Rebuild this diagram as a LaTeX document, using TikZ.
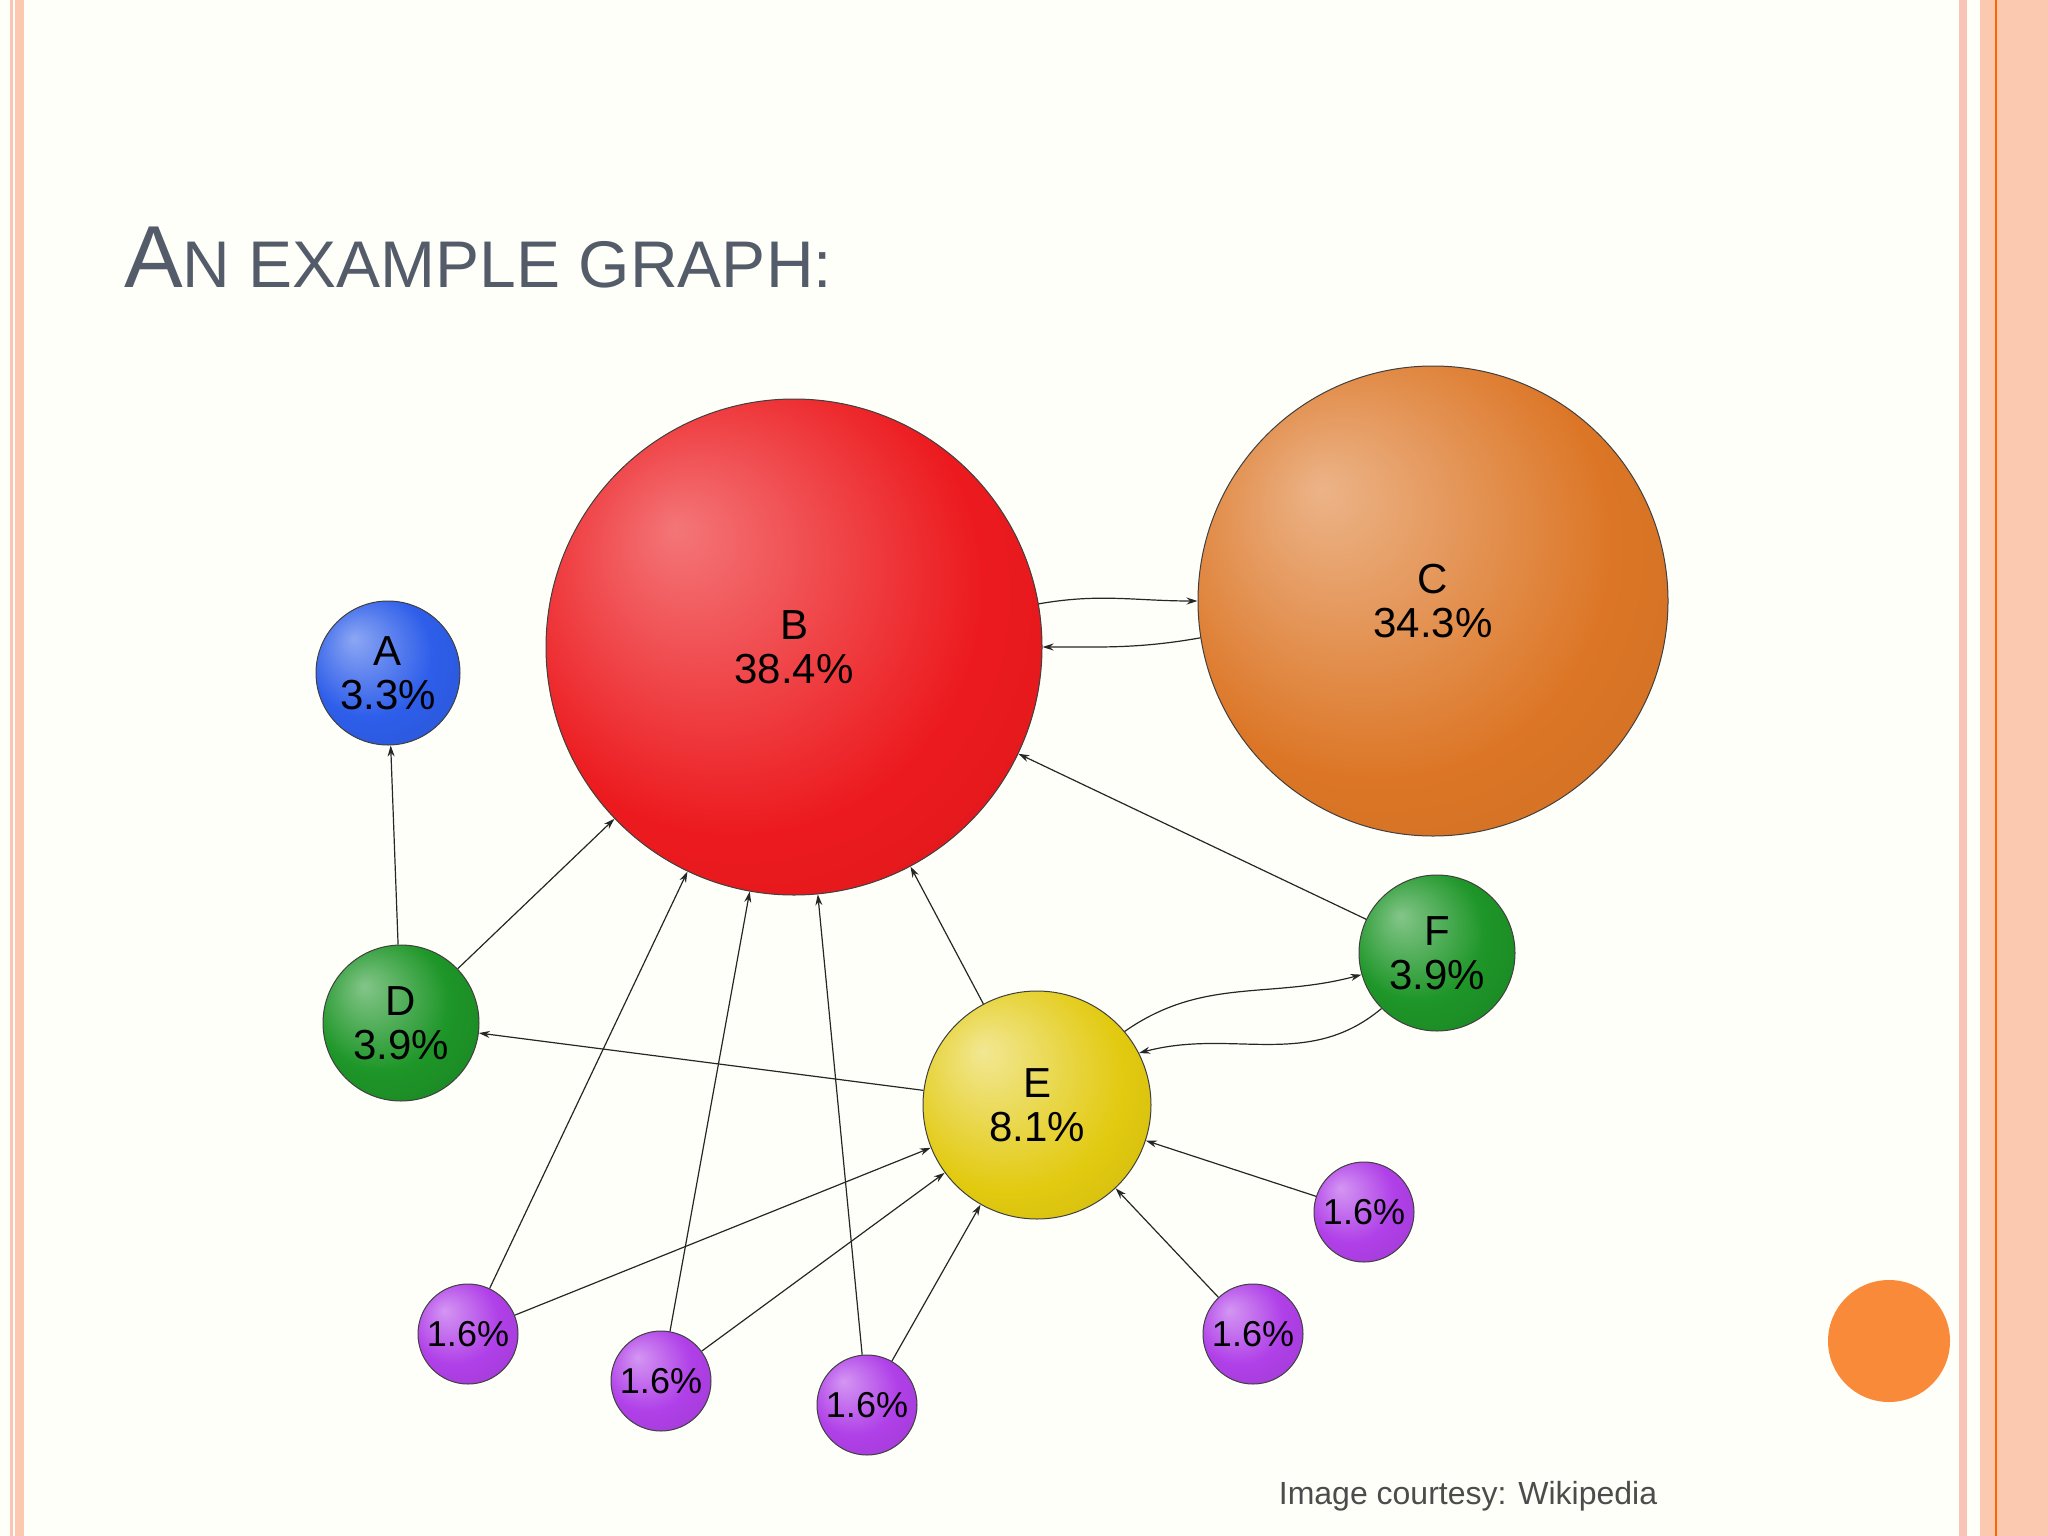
\documentclass[tikz,border=0pt]{standalone}
\usepackage{fontspec}
\setmainfont{Liberation Sans}
\usetikzlibrary{arrows.meta}
\definecolor{stripeA}{HTML}{F9C3B6}
\definecolor{stripeB}{HTML}{FBC9B0}
\definecolor{titlec}{HTML}{545C6A}
\definecolor{cA}{HTML}{2E5EEA}
\definecolor{cB}{HTML}{EC1A1E}
\definecolor{cC}{HTML}{DC7626}
\definecolor{cG}{HTML}{1E9628}
\definecolor{cE}{HTML}{E2CA10}
\definecolor{cP}{HTML}{B040E8}
\definecolor{dotc}{HTML}{F98A3A}
\pgfdeclareradialshading{shA}{\pgfpoint{-12bp}{12bp}}{color(0bp)=(cA!55!white);color(22bp)=(cA);color(50bp)=(cA!85!black)}
\pgfdeclareradialshading{shB}{\pgfpoint{-12bp}{12bp}}{color(0bp)=(cB!60!white);color(25bp)=(cB);color(50bp)=(cB!88!black)}
\pgfdeclareradialshading{shC}{\pgfpoint{-12bp}{12bp}}{color(0bp)=(cC!55!white);color(25bp)=(cC);color(50bp)=(cC!88!black)}
\pgfdeclareradialshading{shG}{\pgfpoint{-12bp}{12bp}}{color(0bp)=(cG!55!white);color(22bp)=(cG);color(50bp)=(cG!80!black)}
\pgfdeclareradialshading{shE}{\pgfpoint{-12bp}{12bp}}{color(0bp)=(cE!45!white);color(25bp)=(cE);color(50bp)=(cE!85!black)}
\pgfdeclareradialshading{shP}{\pgfpoint{-12bp}{12bp}}{color(0bp)=(cP!55!white);color(22bp)=(cP);color(50bp)=(cP!85!black)}
\begin{document}
\begin{tikzpicture}[x=1pt,y=-1pt,
  ballnode/.style={circle,draw=black!75,line width=1pt,inner sep=0pt,align=center,font=\fontsize{42}{44}\selectfont},
  small/.style={ballnode,minimum size=100pt,shading=shP,font=\fontsize{36}{38}\selectfont},
  link/.style={-{Stealth[length=11pt,width=7pt]},line width=1.2pt,black!85}]
\useasboundingbox (0,0) rectangle (2048,1536);
\fill[white!98!yellow] (0,0) rectangle (2048,1536);
\fill[stripeA] (10,0) rectangle (13,1536);
\fill[stripeB] (15,0) rectangle (24,1536);
\fill[stripeA] (1959,0) rectangle (1967,1536);
\fill[stripeB] (1980,0) rectangle (2048,1536);
\draw[orange!80!red,line width=1.5pt] (1996,0) -- (1996,1536);
\node[anchor=base west,text=titlec,inner sep=0pt] (title) at (124,287)
  {\fontsize{88}{90}\selectfont A\fontsize{66}{70}\selectfont N EXAMPLE GRAPH:};
\node[text=black!70,font=\fontsize{32}{34}\selectfont] (cap) at (1468,1496) {Image courtesy: Wikipedia};
\fill[dotc] (1889,1341) circle (61);

\node[ballnode,minimum size=144pt,shading=shA] (A) at (388,673) {A\\3.3\%};
\node[ballnode,minimum size=496pt,shading=shB] (B) at (794,647) {B\\38.4\%};
\node[ballnode,minimum size=470pt,shading=shC] (C) at (1433,601) {C\\34.3\%};
\node[ballnode,minimum size=156pt,shading=shG] (D) at (401,1023) {D\\3.9\%};
\node[ballnode,minimum size=228pt,shading=shE] (E) at (1037,1105) {E\\8.1\%};
\node[ballnode,minimum size=156pt,shading=shG] (F) at (1437,953) {F\\3.9\%};
\node[small] (P1) at (468,1334) {1.6\%};
\node[small] (P2) at (661,1381) {1.6\%};
\node[small] (P3) at (867,1405) {1.6\%};
\node[small] (P4) at (1253,1334) {1.6\%};
\node[small] (P5) at (1364,1212) {1.6\%};

\draw[link] (B.10) to[out=10,in=180] (C.west);
\draw[link] (C.189) to[out=190,in=0] (B.0);
\draw[link] (D) -- (A);
\draw[link] (D) -- (B);
\draw[link] (E) -- (D);
\draw[link] (E) -- (B);
\draw[link] (F) -- (B);
\draw[link] (E.40) to[out=35,in=195] (F.196);
\draw[link] (F.225) to[out=220,in=15] (E.27);
\draw[link] (P1) -- (B);
\draw[link] (P1) -- (E);
\draw[link] (P2) -- (B);
\draw[link] (P2) -- (E);
\draw[link] (P3) -- (B);
\draw[link] (P3) -- (E);
\draw[link] (P4) -- (E);
\draw[link] (P5) -- (E);
\end{tikzpicture}
\end{document}
